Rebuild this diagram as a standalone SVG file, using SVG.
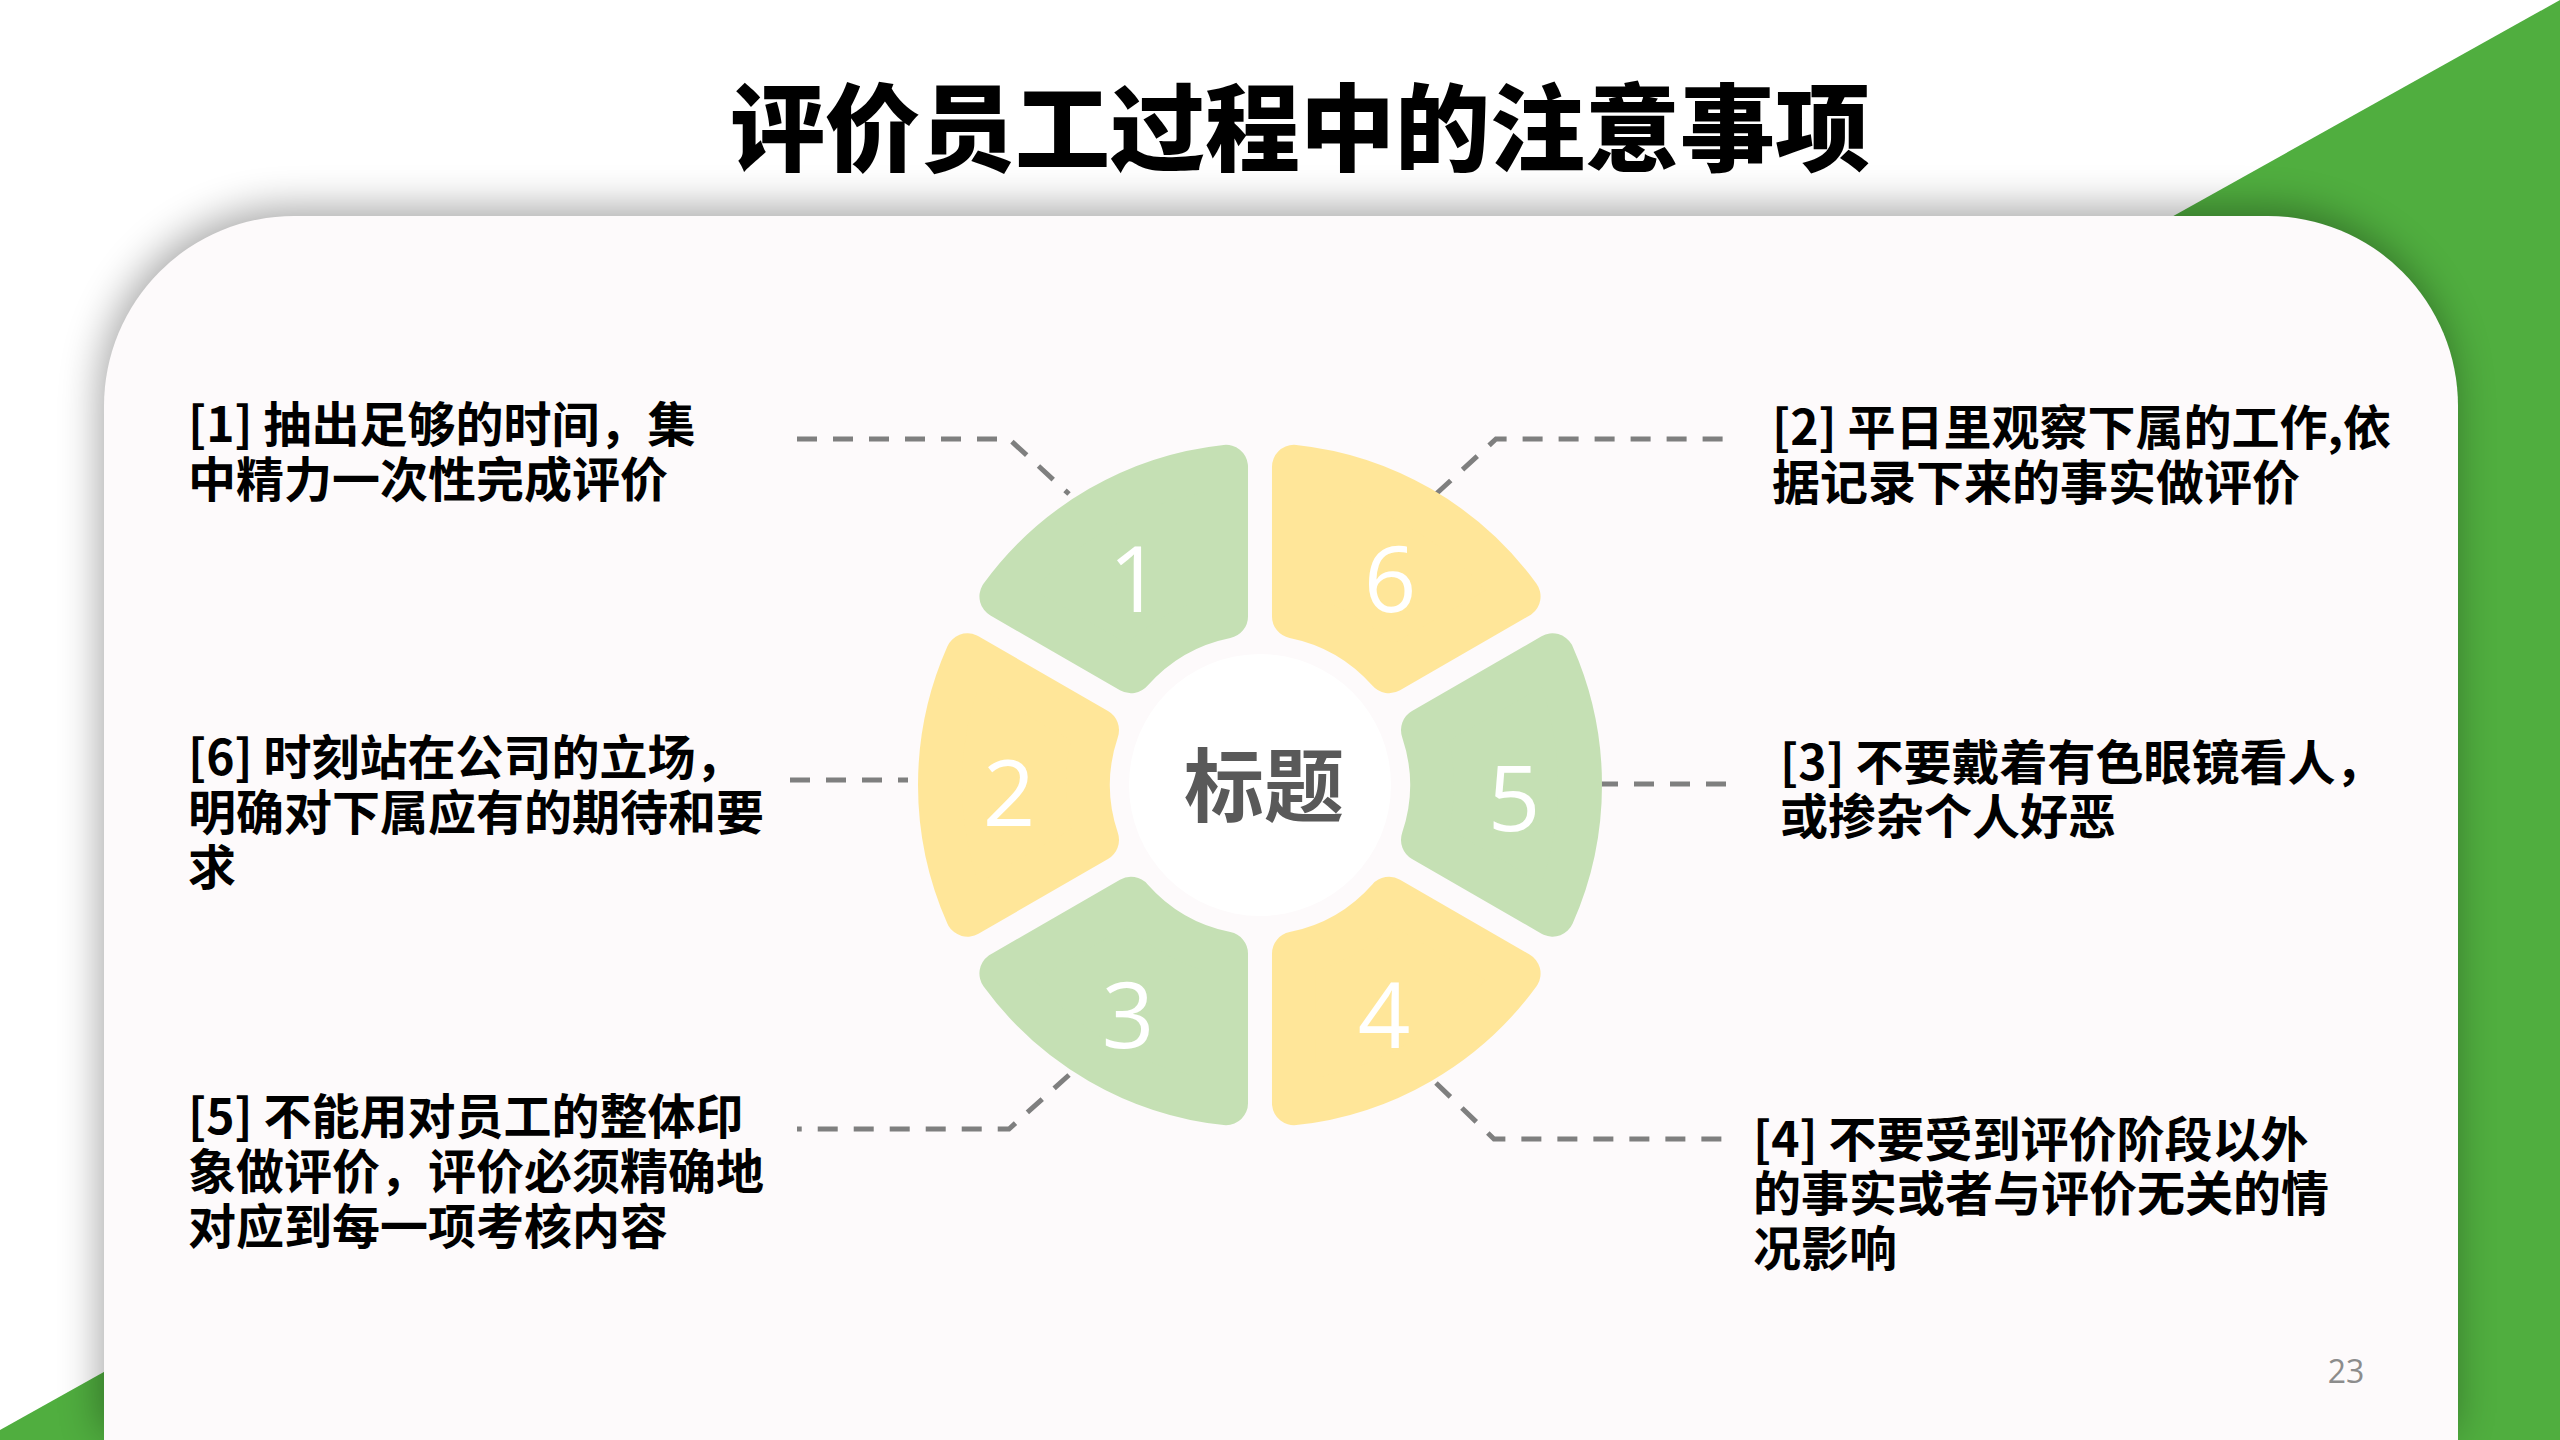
<svg xmlns="http://www.w3.org/2000/svg" xmlns:xlink="http://www.w3.org/1999/xlink" width="2560" height="1440" viewBox="0 0 2560 1440">
  <style>
    .segG{fill:#C5E0B4;stroke:#C5E0B4;stroke-width:44;stroke-linejoin:round}
    .segY{fill:#FFE699;stroke:#FFE699;stroke-width:44;stroke-linejoin:round}
    .num{font-family:"Open Sans","Noto Sans",sans-serif;font-size:92px;fill:#FFFFFF;text-anchor:middle}
    .body{font-family:"Noto Sans CJK SC","Noto Sans",sans-serif;font-weight:700;font-size:48px;fill:#000000}
    .conn{fill:none;stroke:#7F7F7F;stroke-width:5;stroke-dasharray:20 16}
  </style>
  <defs>
    <path id="seg" d="M 292.55 -129.66 A 320 320 0 0 1 292.55 129.66 L 163.02 54.87 A 172 172 0 0 0 163.02 -54.87 Z"/>
    <path id="card" d="M 104 1440 L 104 406 A 190 190 0 0 1 294 216 L 2268 216 A 190 190 0 0 1 2458 406 L 2458 1440 Z"/>
    <filter id="shadow" x="-10%" y="-20%" width="120%" height="140%">
      <feGaussianBlur stdDeviation="20"/>
    </filter>
  </defs>

  <!-- background -->
  <rect x="0" y="0" width="2560" height="1440" fill="#FFFFFF"/>
  <polygon points="2560,0 2560,1440 0,1440 0,1430" fill="#50AE3F"/>

  <!-- card -->
  <g id="card-panel">
    <use xlink:href="#card" href="#card" fill="#000000" opacity="0.35" transform="translate(-4,-8)" filter="url(#shadow)"/>
    <use xlink:href="#card" href="#card" fill="#FDFAFB"/>
  </g>

  <!-- title -->
  <text id="title" x="1300" y="164" text-anchor="middle" font-family="'Noto Sans CJK SC','Noto Sans',sans-serif" font-weight="900" font-size="95" fill="#000000">评价员工过程中的注意事项</text>

  <!-- connectors -->
  <g id="connectors">
    <path class="conn" d="M 797 439 L 1009 439 L 1069 494"/>
    <path class="conn" d="M 1436 494 L 1496 439 L 1727 439"/>
    <path class="conn" d="M 790 780 L 908 780"/>
    <path class="conn" d="M 1598 784 L 1731 784"/>
    <path class="conn" d="M 1069 1075 L 1009 1129 L 797 1129"/>
    <path class="conn" d="M 1436 1083 L 1494 1139 L 1727 1139"/>
  </g>

  <!-- wheel segments -->
  <g id="seg-1">
    <use xlink:href="#seg" href="#seg" class="segG" transform="translate(1260,785) rotate(240)"/>
    <text class="num" x="1135" y="612">1</text>
  </g>
  <g id="seg-6">
    <use xlink:href="#seg" href="#seg" class="segY" transform="translate(1260,785) rotate(300)"/>
    <text class="num" x="1390" y="612">6</text>
  </g>
  <g id="seg-2">
    <use xlink:href="#seg" href="#seg" class="segY" transform="translate(1260,785) rotate(180)"/>
    <text class="num" x="1009" y="826">2</text>
  </g>
  <g id="seg-5">
    <use xlink:href="#seg" href="#seg" class="segG" transform="translate(1260,785) rotate(0)"/>
    <text class="num" x="1514" y="831">5</text>
  </g>
  <g id="seg-3">
    <use xlink:href="#seg" href="#seg" class="segG" transform="translate(1260,785) rotate(120)"/>
    <text class="num" x="1128" y="1048">3</text>
  </g>
  <g id="seg-4">
    <use xlink:href="#seg" href="#seg" class="segY" transform="translate(1260,785) rotate(60)"/>
    <text class="num" x="1384" y="1048">4</text>
  </g>

  <!-- center -->
  <g id="center">
    <circle cx="1260" cy="785" r="131" fill="#FFFFFF"/>
    <text x="1264" y="815" text-anchor="middle" font-family="'Noto Sans CJK SC','Noto Sans',sans-serif" font-weight="700" font-size="80" fill="#595959">标题</text>
  </g>

  <!-- text blocks -->
  <g id="note-1">
    <text class="body"><tspan x="188" y="442">[1] 抽出足够的时间，集</tspan><tspan x="188" y="497">中精力一次性完成评价</tspan></text>
  </g>
  <g id="note-2">
    <text class="body"><tspan x="1772" y="445">[2] 平日里观察下属的工作,依</tspan><tspan x="1772" y="500">据记录下来的事实做评价</tspan></text>
  </g>
  <g id="note-6">
    <text class="body"><tspan x="188" y="775">[6] 时刻站在公司的立场，</tspan><tspan x="188" y="830">明确对下属应有的期待和要</tspan><tspan x="188" y="885">求</tspan></text>
  </g>
  <g id="note-3">
    <text class="body"><tspan x="1780" y="780">[3] 不要戴着有色眼镜看人，</tspan><tspan x="1780" y="834">或掺杂个人好恶</tspan></text>
  </g>
  <g id="note-5">
    <text class="body"><tspan x="188" y="1134">[5] 不能用对员工的整体印</tspan><tspan x="188" y="1189">象做评价，评价必须精确地</tspan><tspan x="188" y="1244">对应到每一项考核内容</tspan></text>
  </g>
  <g id="note-4">
    <text class="body"><tspan x="1753" y="1157">[4] 不要受到评价阶段以外</tspan><tspan x="1753" y="1211">的事实或者与评价无关的情</tspan><tspan x="1753" y="1266">况影响</tspan></text>
  </g>

  <!-- page number -->
  <text id="page-number" x="2346" y="1383" text-anchor="middle" font-family="'Open Sans','Noto Sans',sans-serif" font-size="32" fill="#8C8C8C">23</text>
</svg>
